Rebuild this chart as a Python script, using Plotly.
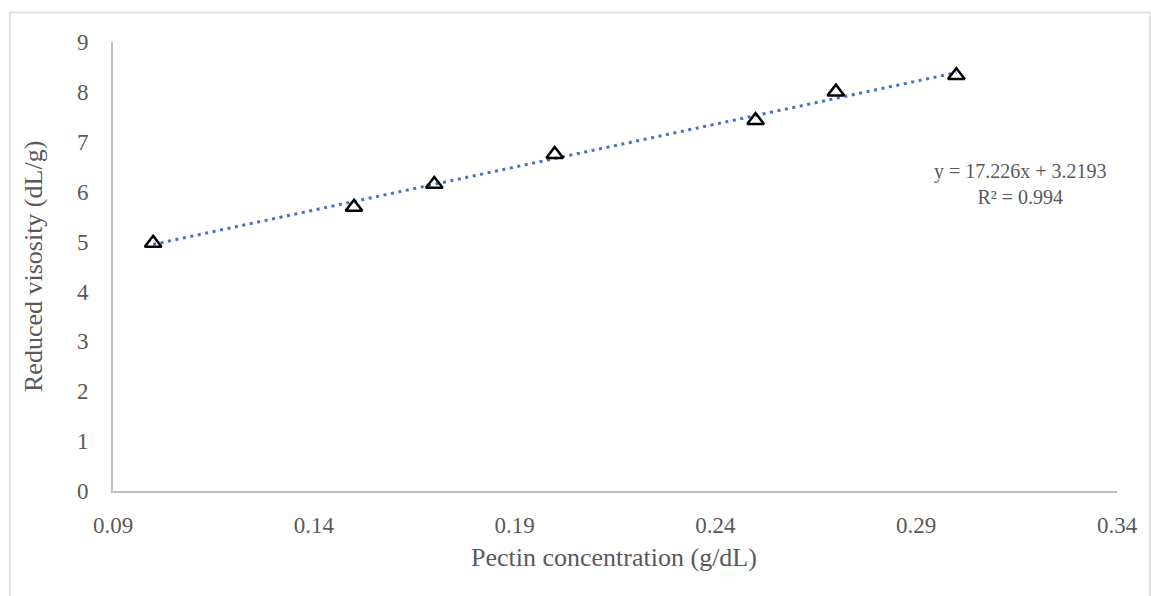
import plotly.graph_objects as go

# Data
conc = [0.10, 0.15, 0.17, 0.20, 0.25, 0.27, 0.30]
red_visc = [4.97, 5.69, 6.15, 6.75, 7.43, 8.00, 8.33]
slope = 17.226
intercept = 3.2193
r2 = 0.994
x_ticks = [0.09, 0.14, 0.19, 0.24, 0.29, 0.34]
y_ticks = [0, 1, 2, 3, 4, 5, 6, 7, 8, 9]

FONT = "Liberation Serif, Times New Roman, serif"
GRAY = "#595959"

trend_x = [min(conc), max(conc)]
trend_y = [slope * v + intercept for v in trend_x]

fig = go.Figure()
fig.add_trace(go.Scatter(
    x=trend_x, y=trend_y, mode="lines",
    line=dict(color="#4472C4", width=3, dash="3px,4.6px"),
    showlegend=False, hoverinfo="skip"))
fig.add_trace(go.Scatter(
    x=conc, y=red_visc, mode="markers",
    marker=dict(symbol="triangle-up-open", size=14.5, color="black",
                line=dict(color="black", width=2.5)),
    showlegend=False))

W, H = 1151, 596
L, R, T, B = 113, 34, 42, 105
pw, ph = W - L - R, H - T - B

def px(xp):
    return (xp - L) / pw

def py(yp):
    return (H - B - yp) / ph

fig.update_layout(
    width=W, height=H,
    margin=dict(l=L, r=R, t=T, b=B),
    paper_bgcolor="white", plot_bgcolor="white",
    font=dict(family=FONT, color=GRAY, size=23),
    xaxis=dict(range=[0.09, 0.34], tickvals=x_ticks,
               ticktext=[f"{v:.2f}" for v in x_ticks],
               showgrid=False, zeroline=False, showline=True,
               linecolor="#BFBFBF", linewidth=2, ticks="",
               ticklabelstandoff=12,
               tickfont=dict(family=FONT, color=GRAY, size=23)),
    yaxis=dict(range=[0, 9], tickvals=y_ticks,
               showgrid=False, zeroline=False, showline=True,
               linecolor="#BFBFBF", linewidth=2, ticks="",
               ticklabelstandoff=18,
               tickfont=dict(family=FONT, color=GRAY, size=23)),
    shapes=[dict(type="rect", xref="paper", yref="paper",
                 x0=px(10), x1=px(1150), y0=py(640), y1=py(12.5),
                 line=dict(color="#D9D9D9", width=1.5), layer="below")],
    annotations=[
        dict(text="Pectin concentration (g/dL)", xref="paper", yref="paper",
             x=px(614), y=py(557), xanchor="center", yanchor="middle",
             showarrow=False,
             font=dict(family=FONT, color=GRAY, size=26)),
        dict(text="Reduced visosity (dL/g)", xref="paper", yref="paper",
             x=px(33), y=py(267), xanchor="center", yanchor="middle",
             showarrow=False, textangle=-90,
             font=dict(family=FONT, color=GRAY, size=26)),
        dict(text=f"y = {slope}x + {intercept}<br>R² = {r2}",
             xref="paper", yref="paper", x=px(1020), y=py(184),
             xanchor="center", yanchor="middle",
             showarrow=False, align="center",
             font=dict(family=FONT, color=GRAY, size=20)),
    ],
)

fig.write_html("out.html")
